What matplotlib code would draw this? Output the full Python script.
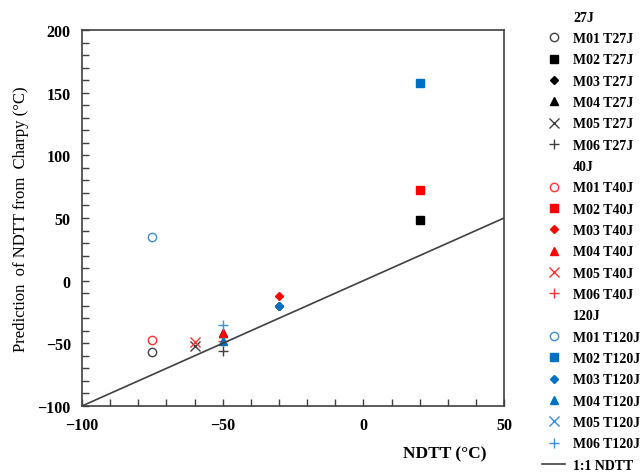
import numpy as np
import matplotlib.pyplot as plt
from matplotlib.lines import Line2D
from matplotlib.ticker import MultipleLocator

plt.rcParams['font.family'] = ['Liberation Serif', 'DejaVu Serif']

# NDTT (x) and predicted NDTT (y) per material and energy level
materials = ['M01', 'M02', 'M03', 'M04', 'M05', 'M06']
ndtt = [-75, 20, -30, -50, -60, -50]

pred_27j = [-57, 48, -20, -42, -52, -56]
pred_40j = [-47, 72, -12, -42, -49, -48]
pred_120j = [35, 158, -20, -48, np.nan, -35]

markers = ['o', 's', 'D', '^', 'x', '+']

groups = [
    ('27J', 'T27J', pred_27j, '#000000', '#404040'),
    ('40J', 'T40J', pred_40j, '#ff0000', '#ff3333'),
    ('120J', 'T120J', pred_120j, '#0070c0', '#3a8fd8'),
]

fig = plt.figure(figsize=(6.43, 4.77), dpi=100)
ax = fig.add_axes([0.1275, 0.1468, 0.6565, 0.7882])

handles = []
labels = []
blank = Line2D([], [], linestyle='none', marker=None)
for head, tag, vals, col, light in groups:
    handles.append(blank)
    labels.append(head)
    for m, mk, x, y in zip(materials, markers, ndtt, vals):
        if mk == 'o':
            kw = dict(mfc='none', mec=light, mew=1.0, ms=6)
        elif mk in ('x', '+'):
            kw = dict(color=light, mew=1.0, ms=7)
        elif mk == 'D':
            kw = dict(color=col, ms=4.5)
        else:
            kw = dict(color=col, ms=6)
        h, = ax.plot([x], [y], linestyle='none', marker=mk, **kw)
        handles.append(h)
        labels.append(f'{m} {tag}')

one = np.array([-100, 50])
h, = ax.plot(one, one, color='#404040', lw=1.2)
handles.append(h)
labels.append('1:1 NDTT')

ax.set_xlim(-100, 50)
ax.set_ylim(-100, 200)
ax.xaxis.set_major_locator(MultipleLocator(50))
ax.xaxis.set_minor_locator(MultipleLocator(10))
ax.yaxis.set_major_locator(MultipleLocator(50))
ax.yaxis.set_minor_locator(MultipleLocator(10))
ax.tick_params(which='both', direction='in', color='#404040', width=1.0)
ax.tick_params(which='major', length=5, labelsize=11.5, pad=8)
ax.tick_params(which='minor', length=5)
for lab in ax.get_xticklabels() + ax.get_yticklabels():
    lab.set_fontweight('bold')
for sp in ax.spines.values():
    sp.set_color('#404040')
    sp.set_linewidth(1.2)

ax.set_xlabel('NDTT (°C)', fontsize=12.5, fontweight='bold')
ax.xaxis.set_label_coords(0.86, -0.105)
ax.set_ylabel('Prediction  of NDTT from  Charpy (°C)', fontsize=12, labelpad=6)

leg = fig.legend(handles, labels, loc='upper left', bbox_to_anchor=(0.835, 0.987),
                 frameon=False, fontsize=10, handlelength=1.6, handletextpad=0.6,
                 labelspacing=0.6, borderaxespad=0)
for t in leg.get_texts():
    t.set_fontweight('bold')

fig.savefig('out.png', dpi=100)
